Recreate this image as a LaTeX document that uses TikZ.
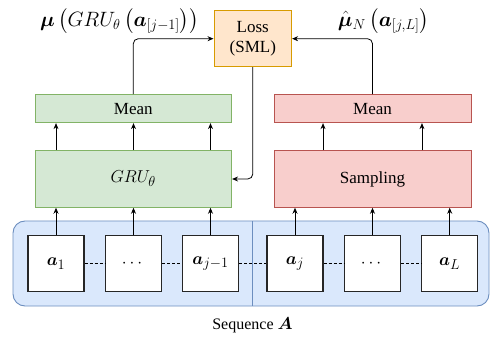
\documentclass[tikz,border=0pt]{standalone}
\usepackage{amsmath}
\usepackage{bm}
\usepackage{fontspec}
\setmainfont{Liberation Serif}
\usetikzlibrary{arrows.meta,calc}
\definecolor{gfill}{HTML}{D5E8D4}\definecolor{gdraw}{HTML}{82B366}
\definecolor{rfill}{HTML}{F8CECC}\definecolor{rdraw}{HTML}{B85450}
\definecolor{ofill}{HTML}{FFE6CC}\definecolor{odraw}{HTML}{D79B00}
\definecolor{bfill}{HTML}{DAE8FC}\definecolor{bdraw}{HTML}{6C8EBF}
\tikzset{
  fnt/.style={font=\fontsize{17}{20}\selectfont},
  mfnt/.style={font=\fontsize{19}{22}\selectfont},
  abox/.style={draw=black!85, line width=1.1pt, fill=white, minimum width=56pt, minimum height=56pt, inner sep=0pt, mfnt},
  gbox/.style={draw=gdraw, fill=gfill, line width=0.9pt, inner sep=0pt, fnt},
  rbox/.style={draw=rdraw, fill=rfill, line width=0.9pt, inner sep=0pt, fnt},
  obox/.style={draw=odraw, fill=ofill, line width=0.9pt, inner sep=0pt, fnt, align=center},
  lbl/.style={font=\fontsize{20.5}{24}\selectfont, inner sep=0pt},
  arr/.style={-{Stealth[length=6pt,width=5pt]}, line width=0.8pt, black},
  dots/.style={densely dashed, line width=0.5pt, black},
}
\begin{document}
\begin{tikzpicture}[x=1pt,y=-1pt]
\useasboundingbox (0,0) rectangle (490,339);
% container
\draw[draw=bdraw, fill=bfill, line width=0.9pt, rounded corners=12pt] (13,221) rectangle (489,306);
\coordinate (dtop) at (252.5,221);
\coordinate (dbot) at (252.5,306);
\draw[bdraw, line width=0.9pt] (dtop) -- (dbot);
% sequence boxes
\node[abox] (a1) at (56,263.7) {$\bm{a}_1$};
\node[abox] (a2) at (133.5,263.7) {$\cdots$};
\node[abox] (a3) at (210.5,263.7) {$\bm{a}_{j-1}$};
\node[abox] (a4) at (295,263.7) {$\bm{a}_j$};
\node[abox] (a5) at (372.5,263.7) {$\cdots$};
\node[abox] (a6) at (449.7,263.7) {$\bm{a}_L$};
\draw[dots] (a1.east) -- (a2.west);
\draw[dots] (a2.east) -- (a3.west);
\draw[dots] (a3.east) -- (a4.west);
\draw[dots] (a4.east) -- (a5.west);
\draw[dots] (a5.east) -- (a6.west);
% processing boxes
\node[gbox, mfnt, minimum width=196.7pt, minimum height=56.6pt] (gru) at (133.3,179) {$GRU_\theta$};
\node[rbox, minimum width=197pt, minimum height=56.6pt] (samp) at (372.5,179) {Sampling};
\node[gbox, minimum width=196.7pt, minimum height=28pt] (meanl) at (133.3,108.7) {Mean};
\node[rbox, minimum width=197pt, minimum height=28pt] (meanr) at (372.5,108.7) {Mean};
\node[obox, minimum width=77.7pt, minimum height=56pt] (loss) at (252.8,38.7) {Loss\\(SML)};
% labels
\node[lbl] (labl) at (119.5,21) {$\bm{\mu}\left(GRU_\theta\left(\bm{a}_{[j-1]}\right)\right)$};
\node[lbl] (labr) at (383.5,21) {$\hat{\bm{\mu}}_N\left(\bm{a}_{[j,L]}\right)$};
\node[font=\fontsize{16}{19}\selectfont] (seq) at (252.5,325) {Sequence $\bm{A}$};
% arrows seq -> gru / samp
\foreach \b in {a1,a2,a3} \draw[arr] (\b.north) -- (\b.north |- gru.south);
\foreach \b in {a4,a5,a6} \draw[arr] (\b.north) -- (\b.north |- samp.south);
% gru -> mean
\foreach \b in {a1,a2,a3} \draw[arr] (gru.north -| \b) -- (meanl.south -| \b);
\coordinate (s1) at ($(samp.north west)!0.25!(samp.north east)$);
\coordinate (s2) at ($(samp.north west)!0.75!(samp.north east)$);
\draw[arr] (s1) -- (s1 |- meanr.south);
\draw[arr] (s2) -- (s2 |- meanr.south);
% to loss
\draw[arr, rounded corners=5pt] (meanl.north) |- (loss.west);
\draw[arr, rounded corners=5pt] (meanr.north) |- (loss.east);
\draw[arr, rounded corners=5pt] (loss.south) |- (gru.east);
\end{tikzpicture}
\end{document}
